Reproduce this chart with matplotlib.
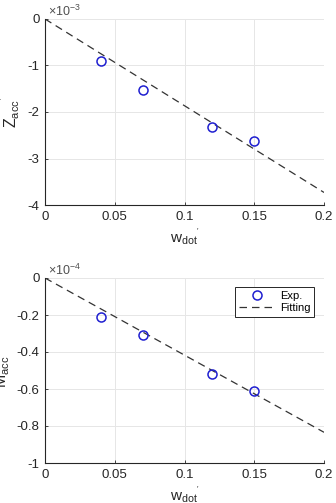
import matplotlib
matplotlib.use("Agg")
import matplotlib.pyplot as plt
import numpy as np
from matplotlib.ticker import FuncFormatter

plt.rcParams['font.family'] = ['Liberation Sans', 'DejaVu Sans']
plt.rcParams['axes.unicode_minus'] = False
plt.rcParams['mathtext.fontset'] = 'custom'
plt.rcParams['mathtext.rm'] = 'Liberation Sans'
plt.rcParams['mathtext.it'] = 'Liberation Sans'

w_dot = [0.04, 0.07, 0.12, 0.15]
z_acc = [-0.90e-3, -1.53e-3, -2.32e-3, -2.62e-3]
m_acc = [-0.21e-4, -0.31e-4, -0.52e-4, -0.61e-4]
fit_x = [0.0, 0.2]
z_fit = [0.0, -3.73e-3]
m_fit = [0.0, -0.834e-4]

xticks = [0, 0.05, 0.1, 0.15, 0.2]
xticklabels = ['0', '0.05', '0.1', '0.15', '0.2']

W, H = 336, 503
fig = plt.figure(figsize=(W/100, H/100), dpi=100)

def make_ax(left, top, right, bottom_px):
    return fig.add_axes([left/W, 1 - bottom_px/H, (right-left)/W, (bottom_px-top)/H])

tc = '#262626'

def style(ax, ylim, yticks, mult):
    ax.set_xlim(0, 0.2)
    ax.set_ylim(*ylim)
    ax.set_xticks(xticks)
    ax.set_xticklabels(xticklabels)
    ax.set_yticks(yticks)
    scale = 10.0 ** (-mult)
    ax.yaxis.set_major_formatter(FuncFormatter(lambda v, p: '%g' % round(v * scale, 6)))
    ax.text(0.01, 1.0, r'$\times$10$^{%d}$' % mult, transform=ax.transAxes,
            fontsize=9, color='#505050', ha='left', va='bottom')
    ax.grid(True, color='#e6e6e6', linewidth=0.7)
    ax.set_axisbelow(True)
    for s in ['top', 'right']:
        ax.spines[s].set_visible(False)
    for s in ['left', 'bottom']:
        ax.spines[s].set_color(tc)
        ax.spines[s].set_linewidth(0.8)
    ax.tick_params(direction='in', length=2.5, colors=tc, labelsize=9.5, width=0.6, pad=4)
    ax.set_xlabel(r"w$_{\mathrm{dot}}$$^{'}$", fontsize=11, color=tc, labelpad=3)

ax1 = make_ax(45, 19, 324, 205)
ax1.plot(fit_x, z_fit, linestyle=(0, (6, 4)), color='#333333', linewidth=0.9, zorder=2)
ax1.plot(w_dot, z_acc, 'o', mfc='none', mec='#1f1fd0', ms=6.5, mew=1.1, zorder=3)
style(ax1, (-4e-3, 0), [-4e-3, -3e-3, -2e-3, -1e-3, 0], -3)
ax1.set_ylabel(r"Z$_{\mathrm{acc}}$$^{'}$", fontsize=11.5, color=tc, labelpad=4)

ax2 = make_ax(45, 278, 324, 463)
ax2.plot(w_dot, m_acc, 'o', mfc='none', mec='#1f1fd0', ms=6.5, mew=1.1, zorder=3, label='Exp.')
ax2.plot(fit_x, m_fit, linestyle=(0, (6, 4)), color='#333333', linewidth=0.9, zorder=2, label='Fitting')
style(ax2, (-1e-4, 0), [-1e-4, -0.8e-4, -0.6e-4, -0.4e-4, -0.2e-4, 0], -4)
ax2.set_ylabel(r"M$_{\mathrm{acc}}$$^{'}$", fontsize=11.5, color=tc, labelpad=3)
leg = ax2.legend(loc='upper right', bbox_to_anchor=(0.965, 0.952), fontsize=8,
                 frameon=True, fancybox=False, edgecolor='#262626', framealpha=1,
                 handlelength=3.2, borderpad=0.35, labelspacing=0.2, handletextpad=0.5,
                 borderaxespad=0)
leg.get_frame().set_linewidth(0.7)

fig.savefig('out.png', dpi=100)
